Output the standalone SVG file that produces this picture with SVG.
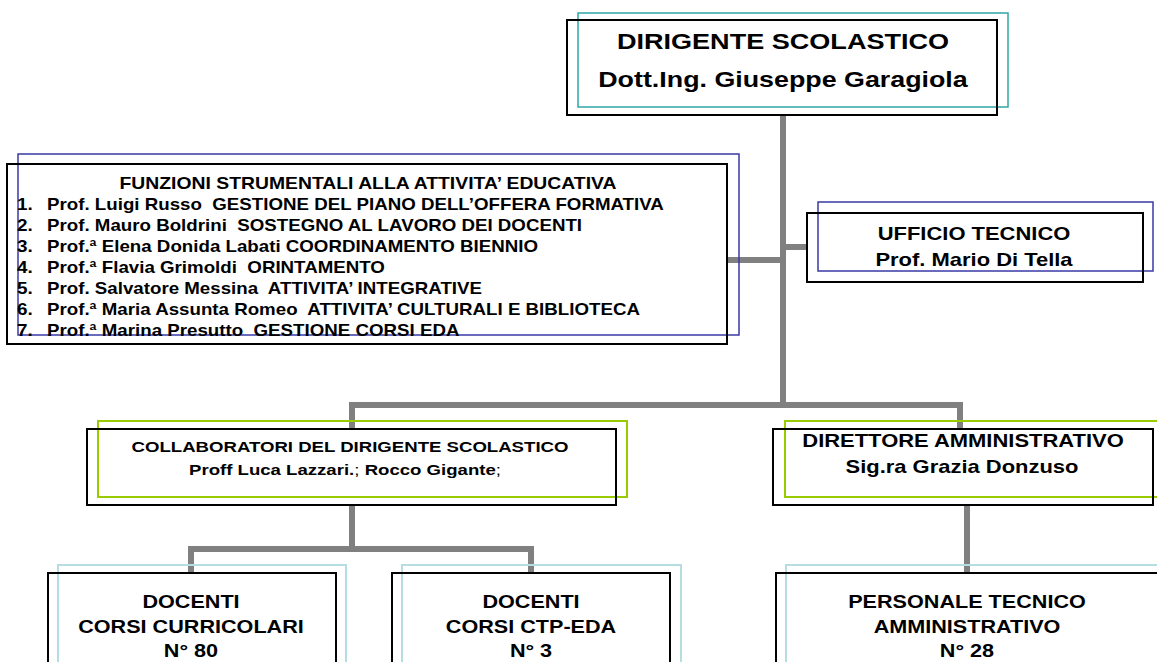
<svg xmlns="http://www.w3.org/2000/svg" width="1157" height="662" viewBox="0 0 1157 662">
<style>
.t{font-family:"Liberation Sans",Arial,sans-serif;font-weight:bold;fill:#000}
.p{white-space:pre}
.n{font-weight:normal}
.blk{fill:none;stroke:#000;stroke-width:2}
.teal{fill:none;stroke:#2fa6a6;stroke-width:1.5}
.blue{fill:none;stroke:#3a3aa8;stroke-width:1.5}
.grn{fill:none;stroke:#99cc00;stroke-width:2}
.lt{fill:none;stroke:#b5dde2;stroke-width:2}
.conn{fill:none;stroke:#808080;stroke-width:6}
</style>
<rect width="1157" height="662" fill="#fff"/>
<g id="connectors">
<path class="conn" d="M783 115V405"/>
<path class="conn" d="M352 429V405H960V429"/>
<path class="conn" d="M727 260H783"/>
<path class="conn" d="M783 247H807"/>
<path class="conn" d="M352 505V549"/>
<path class="conn" d="M191 573V549H531V573"/>
<path class="conn" d="M967 505V573"/>
</g>
<g id="dirigente">
<rect class="teal" x="578" y="13" width="430" height="94"/>
<rect class="blk" x="567" y="20" width="430" height="95"/>
<text class="t" font-size="22" text-anchor="middle" transform="translate(783,49) scale(1.23,1)">DIRIGENTE SCOLASTICO</text>
<text class="t" font-size="22" text-anchor="middle" transform="translate(783,87) scale(1.22,1)">Dott.Ing. Giuseppe Garagiola</text>
</g>
<g id="funzioni">
<rect class="blue" x="18" y="154" width="721" height="181"/>
<rect class="blk" x="7" y="164" width="720" height="180"/>
<text class="t" font-size="16" text-anchor="middle" transform="translate(368,189) scale(1.21,1)">FUNZIONI STRUMENTALI ALLA ATTIVITA’ EDUCATIVA</text>
<g font-size="16">
<text class="t" transform="translate(17,210) scale(1.18,1)">1.</text>
<text class="t p" transform="translate(47,210) scale(1.17,1)">Prof. Luigi Russo  GESTIONE DEL PIANO DELL’OFFERA FORMATIVA</text>
<text class="t" transform="translate(17,231) scale(1.18,1)">2.</text>
<text class="t p" transform="translate(47,231) scale(1.17,1)">Prof. Mauro Boldrini  SOSTEGNO AL LAVORO DEI DOCENTI</text>
<text class="t" transform="translate(17,252) scale(1.18,1)">3.</text>
<text class="t p" transform="translate(47,252) scale(1.17,1)">Prof.ª Elena Donida Labati COORDINAMENTO BIENNIO</text>
<text class="t" transform="translate(17,273) scale(1.18,1)">4.</text>
<text class="t p" transform="translate(47,273) scale(1.17,1)">Prof.ª Flavia Grimoldi  ORINTAMENTO</text>
<text class="t" transform="translate(17,294) scale(1.18,1)">5.</text>
<text class="t p" transform="translate(47,294) scale(1.17,1)">Prof. Salvatore Messina  ATTIVITA’ INTEGRATIVE</text>
<text class="t" transform="translate(17,315) scale(1.18,1)">6.</text>
<text class="t p" transform="translate(47,315) scale(1.17,1)">Prof.ª Maria Assunta Romeo  ATTIVITA’ CULTURALI E BIBLIOTECA</text>
<text class="t" transform="translate(17,336) scale(1.18,1)">7.</text>
<text class="t p" transform="translate(47,336) scale(1.17,1)">Prof.ª Marina Presutto  GESTIONE CORSI EDA</text>
</g>
</g>
<g id="ufficio">
<rect class="blue" x="818" y="202" width="335" height="69"/>
<rect class="blk" x="807" y="213" width="336" height="69"/>
<text class="t" font-size="18" text-anchor="middle" transform="translate(974,240) scale(1.22,1)">UFFICIO TECNICO</text>
<text class="t" font-size="18" text-anchor="middle" transform="translate(974,266) scale(1.22,1)">Prof. Mario Di Tella</text>
</g>
<g id="collaboratori">
<rect class="grn" x="98" y="421" width="529" height="76"/>
<rect class="blk" x="87" y="429" width="529" height="76"/>
<text class="t" font-size="15.5" text-anchor="middle" transform="translate(350,452) scale(1.2,1)">COLLABORATORI DEL DIRIGENTE SCOLASTICO</text>
<text class="t" font-size="15.5" text-anchor="middle" transform="translate(345,475) scale(1.2,1)">Proff Luca Lazzari.<tspan class="n">;</tspan> Rocco Gigante<tspan class="n">;</tspan></text>
</g>
<g id="direttore">
<rect class="grn" x="785" y="421" width="380" height="76"/>
<rect class="blk" x="773" y="429" width="380" height="76"/>
<text class="t" font-size="18" text-anchor="middle" transform="translate(963,447) scale(1.22,1)">DIRETTORE AMMINISTRATIVO</text>
<text class="t" font-size="18" text-anchor="middle" transform="translate(962,473) scale(1.22,1)">Sig.ra Grazia Donzuso</text>
</g>
<g id="docenti-curricolari">
<rect class="lt" x="58" y="565" width="288" height="110"/>
<rect class="blk" x="48" y="573" width="288" height="110"/>
<text class="t" font-size="18" text-anchor="middle" transform="translate(191,608) scale(1.2,1)">DOCENTI</text>
<text class="t" font-size="18" text-anchor="middle" transform="translate(191,633) scale(1.2,1)">CORSI CURRICOLARI</text>
<text class="t" font-size="18" text-anchor="middle" transform="translate(191,657) scale(1.2,1)">N° 80</text>
</g>
<g id="docenti-ctp">
<rect class="lt" x="402" y="565" width="279" height="110"/>
<rect class="blk" x="392" y="573" width="278" height="110"/>
<text class="t" font-size="18" text-anchor="middle" transform="translate(531,608) scale(1.2,1)">DOCENTI</text>
<text class="t" font-size="18" text-anchor="middle" transform="translate(531,633) scale(1.2,1)">CORSI CTP-EDA</text>
<text class="t" font-size="18" text-anchor="middle" transform="translate(531,657) scale(1.2,1)">N° 3</text>
</g>
<g id="personale">
<rect class="lt" x="786" y="565" width="390" height="110"/>
<rect class="blk" x="776" y="573" width="384" height="110"/>
<text class="t" font-size="18" text-anchor="middle" transform="translate(967,608) scale(1.2,1)">PERSONALE TECNICO</text>
<text class="t" font-size="18" text-anchor="middle" transform="translate(967,633) scale(1.2,1)">AMMINISTRATIVO</text>
<text class="t" font-size="18" text-anchor="middle" transform="translate(967,657) scale(1.2,1)">N° 28</text>
</g>
</svg>
